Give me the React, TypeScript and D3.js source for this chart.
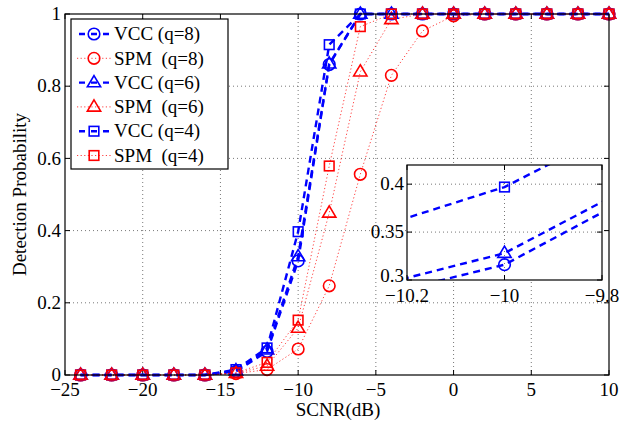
import * as d3 from "d3"

// SCNR values (dB)
const scnr = [-24, -22, -20, -18, -16, -14, -12, -10, -8, -6, -4, -2, 0, 2, 4, 6, 8, 10]

const vcc8 = [0, 0, 0, 0, 0, 0.01, 0.065, 0.316, 0.86, 1, 1, 1, 1, 1, 1, 1, 1, 1]
const spm8 = [0, 0, 0, 0, 0, 0.004, 0.015, 0.072, 0.247, 0.556, 0.83, 0.953, 0.995, 1, 1, 1, 1, 1]
const vcc6 = [0, 0, 0, 0, 0, 0.012, 0.07, 0.328, 0.862, 1, 1, 1, 1, 1, 1, 1, 1, 1]
const spm6 = [0, 0, 0, 0, 0, 0.005, 0.025, 0.13, 0.449, 0.84, 0.985, 1, 1, 1, 1, 1, 1, 1]
const vcc4 = [0, 0, 0, 0, 0, 0.015, 0.075, 0.397, 0.915, 1, 1, 1, 1, 1, 1, 1, 1, 1]
const spm4 = [0, 0, 0, 0, 0, 0.006, 0.035, 0.152, 0.579, 0.965, 1, 1, 1, 1, 1, 1, 1, 1]

const xTicks = [-25, -20, -15, -10, -5, 0, 5, 10]
const yTicks = [0, 0.2, 0.4, 0.6, 0.8, 1]
const insetXTicks = [-10.2, -10, -9.8]
const insetYTicks = [0.3, 0.35, 0.4]

type Marker = "circle" | "triangle" | "square"
interface Series {
  name: string
  values: number[]
  color: string
  marker: Marker
  vcc: boolean
}

const series: Series[] = [
  { name: "VCC (q=8)", values: vcc8, color: "#0000ff", marker: "circle", vcc: true },
  { name: "SPM\u00a0\u00a0(q=8)", values: spm8, color: "#ff0000", marker: "circle", vcc: false },
  { name: "VCC (q=6)", values: vcc6, color: "#0000ff", marker: "triangle", vcc: true },
  { name: "SPM\u00a0\u00a0(q=6)", values: spm6, color: "#ff0000", marker: "triangle", vcc: false },
  { name: "VCC (q=4)", values: vcc4, color: "#0000ff", marker: "square", vcc: true },
  { name: "SPM\u00a0\u00a0(q=4)", values: spm4, color: "#ff0000", marker: "square", vcc: false },
]

const font = "Liberation Serif"
const minus = (v: number, digits?: number) => {
  const s = digits != null ? v.toFixed(digits) : String(v)
  return s.replace("-", "\u2212")
}

function MarkerShape({ type, x, y, color, size = 1 }: { type: Marker; x: number; y: number; color: string; size?: number }) {
  const sw = 1.6
  if (type === "circle") return <circle cx={x} cy={y} r={5.8 * size} fill="none" stroke={color} strokeWidth={sw} />
  if (type === "square") {
    const h = 4.8 * size
    return <rect x={x - h} y={y - h} width={2 * h} height={2 * h} fill="none" stroke={color} strokeWidth={sw} />
  }
  const r = 7 * size
  const pts = [
    [x, y - r],
    [x + r * 0.95, y + r * 0.6],
    [x - r * 0.95, y + r * 0.6],
  ]
  return <polygon points={pts.map((p) => p.join(",")).join(" ")} fill="none" stroke={color} strokeWidth={sw} />
}

export default function App() {
  const W = 638
  const H = 421
  const margin = { left: 65, right: 29, top: 14, bottom: 46 }

  const x = d3.scaleLinear().domain([-25, 10]).range([margin.left, W - margin.right])
  const y = d3.scaleLinear().domain([0, 1]).range([H - margin.bottom, margin.top])

  const line = d3
    .line<[number, number]>()
    .x((d) => x(d[0]))
    .y((d) => y(d[1]))

  // inset
  const ix = d3.scaleLinear().domain([-10.2, -9.8]).range([407, 602])
  const iy = d3.scaleLinear().domain([0.3, 0.42]).range([280, 165])
  const iline = d3
    .line<[number, number]>()
    .x((d) => ix(d[0]))
    .y((d) => iy(d[1]))

  const gridStyle = { stroke: "#555", strokeWidth: 0.8, strokeDasharray: "1,3" }
  const ts = { fontFamily: font }

  const legend = { x: 71, y: 19, w: 157, h: 150, row: 24.3 }

  return (
    <div style={{ position: "fixed", left: 0, top: 0 }}>
      <svg width={W} height={H} style={{ background: "#fff", display: "block", fontFamily: font }}>
        <defs>
          <clipPath id="insetClip">
            <rect x={ix.range()[0]} y={iy.range()[1]} width={ix.range()[1] - ix.range()[0]} height={iy.range()[0] - iy.range()[1]} />
          </clipPath>
        </defs>
        <rect x={x.range()[0]} y={y.range()[1]} width={x.range()[1] - x.range()[0]} height={y.range()[0] - y.range()[1]} fill="#fff" />
        {/* grid */}
        {xTicks.slice(1, -1).map((t) => (
          <line key={"gx" + t} x1={x(t)} x2={x(t)} y1={y(0)} y2={y(1)} {...gridStyle} />
        ))}
        {yTicks.slice(1, -1).map((t) => (
          <line key={"gy" + t} x1={x(-25)} x2={x(10)} y1={y(t)} y2={y(t)} {...gridStyle} />
        ))}
        {/* ticks */}
        {xTicks.map((t) => (
          <g key={"tx" + t}>
            <line x1={x(t)} x2={x(t)} y1={y(0)} y2={y(0) - 5} stroke="#000" />
            <line x1={x(t)} x2={x(t)} y1={y(1)} y2={y(1) + 5} stroke="#000" />
            <text x={x(t)} y={y(0) + 21} textAnchor="middle" fontSize={19} style={ts}>
              {minus(t)}
            </text>
          </g>
        ))}
        {yTicks.map((t) => (
          <g key={"ty" + t}>
            <line x1={x(-25)} x2={x(-25) + 5} y1={y(t)} y2={y(t)} stroke="#000" />
            <line x1={x(10)} x2={x(10) - 5} y1={y(t)} y2={y(t)} stroke="#000" />
            <text x={x(-25) - 4} y={y(t)} dy="0.33em" textAnchor="end" fontSize={19} style={ts}>
              {t}
            </text>
          </g>
        ))}
        {/* series */}
        {series.map((s) => {
          const pts = scnr.map((v, i) => [v, s.values[i]] as [number, number])
          return (
            <g key={s.name}>
              <path
                d={line(pts) ?? ""}
                fill="none"
                stroke={s.color}
                strokeWidth={s.vcc ? 2.4 : 1}
                strokeDasharray={s.vcc ? "7,5" : "1.2,2.4"}
                opacity={s.vcc ? 1 : 0.75}
              />
              {pts.map((p, i) => (
                <MarkerShape key={i} type={s.marker} x={x(p[0])} y={y(p[1])} color={s.color} />
              ))}
            </g>
          )
        })}
        <rect x={x.range()[0]} y={y.range()[1]} width={x.range()[1] - x.range()[0]} height={y.range()[0] - y.range()[1]} fill="none" stroke="#000" strokeWidth={1.2} />

        {/* legend */}
        <rect x={legend.x} y={legend.y} width={legend.w} height={legend.h} fill="#fff" stroke="#000" strokeWidth={1.2} />
        {series.map((s, i) => {
          const cy = legend.y + 15 + i * legend.row
          return (
            <g key={"lg" + i}>
              <line
                x1={legend.x + 6}
                x2={legend.x + 40}
                y1={cy}
                y2={cy}
                stroke={s.color}
                strokeWidth={s.vcc ? 2.4 : 1}
                strokeDasharray={s.vcc ? "6,6" : "1.2,2.4"}
                strokeDashoffset={s.vcc ? -2 : 0}
                opacity={s.vcc ? 1 : 0.75}
              />
              <MarkerShape type={s.marker} x={legend.x + 23} y={cy} color={s.color} />
              <text x={legend.x + 43} y={cy} dy="0.33em" fontSize={19} style={ts}>
                {s.name}
              </text>
            </g>
          )
        })}

        {/* inset */}
        <rect x={ix.range()[0]} y={iy.range()[1]} width={ix.range()[1] - ix.range()[0]} height={iy.range()[0] - iy.range()[1]} fill="#fff" />
        {insetXTicks.slice(1, -1).map((t) => (
          <line key={"igx" + t} x1={ix(t)} x2={ix(t)} y1={iy(0.3)} y2={iy(0.42)} {...gridStyle} />
        ))}
        {insetYTicks.slice(1).map((t) => (
          <line key={"igy" + t} x1={ix(-10.2)} x2={ix(-9.8)} y1={iy(t)} y2={iy(t)} {...gridStyle} />
        ))}
        <g clipPath="url(#insetClip)">
          {series
            .filter((s) => s.vcc)
            .map((s) => {
              const pts = scnr.map((v, i) => [v, s.values[i]] as [number, number]).filter((p) => p[0] >= -12 && p[0] <= -8)
              return (
                <g key={"in" + s.name}>
                  <path d={iline(pts) ?? ""} fill="none" stroke={s.color} strokeWidth={2.4} strokeDasharray="7,5" />
                  <MarkerShape type={s.marker} x={ix(-10)} y={iy(s.values[scnr.indexOf(-10)])} color={s.color} />
                </g>
              )
            })}
        </g>
        {insetXTicks.map((t) => (
          <g key={"itx" + t}>
            <line x1={ix(t)} x2={ix(t)} y1={iy(0.3)} y2={iy(0.3) - 5} stroke="#000" />
            <line x1={ix(t)} x2={ix(t)} y1={iy(0.42)} y2={iy(0.42) + 5} stroke="#000" />
            <text x={ix(t)} y={iy(0.3) + 22} textAnchor="middle" fontSize={19} style={ts}>
              {minus(t, 1).replace(".0", "")}
            </text>
          </g>
        ))}
        {insetYTicks.map((t) => (
          <g key={"ity" + t}>
            <line x1={ix(-10.2)} x2={ix(-10.2) + 5} y1={iy(t)} y2={iy(t)} stroke="#000" />
            <line x1={ix(-9.8)} x2={ix(-9.8) - 5} y1={iy(t)} y2={iy(t)} stroke="#000" />
            <text x={ix(-10.2) - 3} y={iy(t)} dy={t === 0.3 ? "0.1em" : "0.33em"} textAnchor="end" fontSize={19} style={ts}>
              {t}
            </text>
          </g>
        ))}
        <rect x={ix.range()[0]} y={iy.range()[1]} width={ix.range()[1] - ix.range()[0]} height={iy.range()[0] - iy.range()[1]} fill="none" stroke="#000" strokeWidth={1.2} />

        {/* axis labels */}
        <text x={338} y={416} textAnchor="middle" fontSize={19} style={ts}>
          SCNR(dB)
        </text>
        <text transform={`translate(26, ${(y(0) + y(1)) / 2}) rotate(-90)`} textAnchor="middle" fontSize={19} style={ts}>
          Detection Probability
        </text>
      </svg>
    </div>
  )
}
